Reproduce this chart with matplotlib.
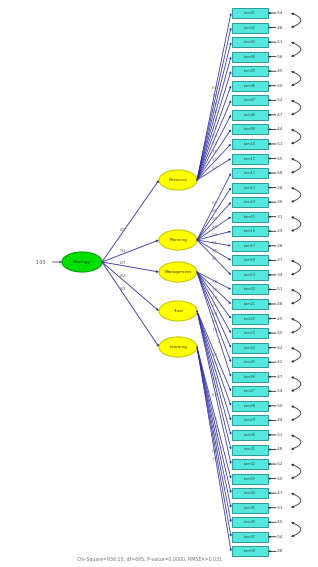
import matplotlib
matplotlib.use('Agg')
import matplotlib.pyplot as plt
import numpy as np
from matplotlib.patches import Ellipse, Rectangle, FancyArrowPatch

# second-order factor and first-order factors
top_factor = 'Strategy'
top_var = '1.00'
factors = ['Resource', 'Planning', 'Management', 'Trust', 'Learning']
gammas = ['.87', '.91', '.87', '.82', '.83']

# number of indicators per factor (in box order)
n_items = [11, 8, 7, 6, 6]
loadings = ['.68', '.72', '.70', '.66', '.74', '.71', '.69', '.73', '.75', '.70', '.67',
            '.65', '.85', '.80', '.83', '.84', '.85', '.85', '.81',
            '.70', '.72', '.74', '.71', '.69', '.76', '.73',
            '.68', '.71', '.75', '.70', '.72', '.69',
            '.71', '.73', '.70', '.74', '.68', '.72']
err_var = ['.54', '.48', '.51', '.56', '.45', '.50', '.52', '.47', '.44', '.51', '.55',
           '.58', '.28', '.36', '.31', '.29', '.28', '.27', '.34',
           '.51', '.48', '.45', '.50', '.52', '.42', '.47',
           '.54', '.50', '.44', '.51', '.48', '.52',
           '.50', '.47', '.51', '.45', '.54', '.48']
item_names = ['item%02d' % (i + 1) for i in range(sum(n_items))]
# correlated error pairs (index of first item of pair)
err_pairs = [0, 2, 4, 6, 8, 10, 12, 14, 17, 19, 21, 23, 25, 27, 29, 31, 33, 35]
fit_text = 'Chi-Square=936.15, df=695, P-value=0.0000, RMSEA=0.031'

W, H = 318, 567
fig = plt.figure(figsize=(W / 100, H / 100), dpi=100)
ax = fig.add_axes([0, 0, 1, 1])
ax.set_xlim(0, W)
ax.set_ylim(H, 0)
ax.axis('off')

line_col = '#2e2e9e'
fs = 3.0

# positions
gx, gy, gw, gh = 82, 262, 40, 20
fx, fw, fh = 178, 38, 20
fy = [180, 240, 272, 311, 347]
bx, bw, bh = 232, 36, 10
by = 13 + np.arange(len(item_names)) * 14.55


def arrow(x0, y0, x1, y1, color=line_col, lw=0.5, hs=2.5):
    ax.add_patch(FancyArrowPatch((x0, y0), (x1, y1), arrowstyle='-|>',
                                 mutation_scale=hs, color=color, lw=lw,
                                 shrinkA=0, shrinkB=0))


# second-order factor
ax.add_patch(Ellipse((gx, gy), gw, gh, facecolor='#00e000', edgecolor='#00a000', lw=0.8))
ax.text(gx, gy, top_factor, fontsize=fs, ha='center', va='center', color='#004000')
arrow(52, gy, gx - gw / 2, gy)
ax.text(46, gy, top_var, fontsize=fs + 0.4, ha='right', va='center', color='#555555')

for y, g in zip(fy, gammas):
    arrow(gx + gw / 2, gy, fx - fw / 2, y, lw=0.6, hs=3)
    t = 0.35
    ax.text(gx + gw / 2 + t * (fx - fw / 2 - gx - gw / 2) - 2,
            gy + t * (y - gy) - 2, g, fontsize=fs, color='#555555')

# first-order factors
for y, name in zip(fy, factors):
    ax.add_patch(Ellipse((fx, y), fw, fh, facecolor='#ffff00', edgecolor='#c8c800', lw=0.8))
    ax.text(fx, y, name, fontsize=fs, ha='center', va='center', color='#404000')

# loadings
idx = 0
for k, n in enumerate(n_items):
    for j in range(n):
        yb = by[idx]
        x0, y0 = fx + fw / 2, fy[k]
        arrow(x0, y0, bx - 1, yb, lw=0.55, hs=2.6)
        t = 0.55
        ax.text(x0 + t * (bx - x0) - 5, y0 + t * (yb - y0), loadings[idx],
                fontsize=fs - 0.3, color='#666666', va='center')
        idx += 1

# indicator boxes and errors
for i, (y, name) in enumerate(zip(by, item_names)):
    ax.add_patch(Rectangle((bx, y - bh / 2), bw, bh, facecolor='#55e6dc',
                           edgecolor='#2a9a9a', lw=0.7))
    ax.text(bx + bw / 2, y, name, fontsize=fs - 0.6, ha='center', va='center', color='#205050')
    arrow(bx + bw + 8, y, bx + bw, y, color='#222222', lw=0.6, hs=2.2)
    ax.text(bx + bw + 9, y, err_var[i], fontsize=fs, va='center', color='#444444')

for i in err_pairs:
    if i + 1 < len(by):
        ax.add_patch(FancyArrowPatch((bx + bw + 23, by[i]), (bx + bw + 23, by[i + 1]),
                                     arrowstyle='<|-|>', mutation_scale=3,
                                     connectionstyle='arc3,rad=-1.3', color='#333333', lw=0.6,
                                     shrinkA=0, shrinkB=0))

ax.text(150, 559, fit_text, fontsize=3.4, ha='center', va='center', color='#777777')

fig.savefig('out.png', dpi=100)
